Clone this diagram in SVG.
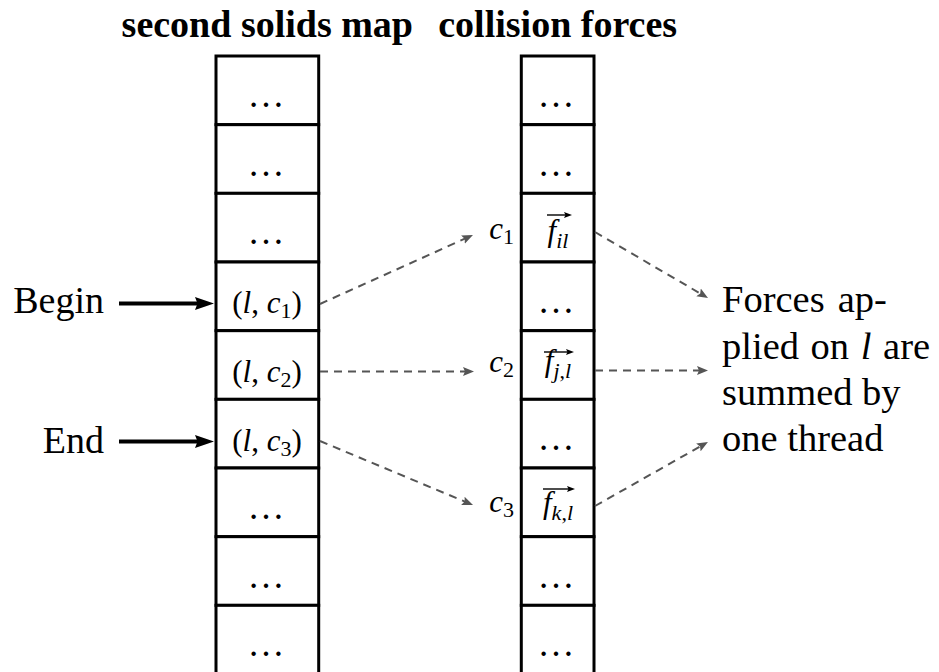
<svg xmlns="http://www.w3.org/2000/svg" width="939" height="672" viewBox="0 0 939 672">
<style>
.cell{fill:#fff;stroke:#000;stroke-width:3}
.t{font-family:"Liberation Serif","Times New Roman","DejaVu Serif",serif;fill:#000}
.h{font-size:38px;font-weight:bold;text-anchor:middle}
.lab{font-size:38px}
.sum{font-size:38.5px}
.m{font-size:31px;text-anchor:middle}
.c{font-size:31px;text-anchor:end}
.dots{font-size:37px;text-anchor:middle}
.i{font-style:italic}
.sub{font-size:22px}
.dash{fill:none;stroke:#555;stroke-width:2;stroke-dasharray:8 6;marker-end:url(#ga)}
.solid{fill:none;stroke:#000;stroke-width:4;marker-end:url(#ba)}
.vec{fill:none;stroke:#000;stroke-width:1.4;marker-end:url(#va)}
</style>
<defs>
<marker id="ba" markerUnits="userSpaceOnUse" markerWidth="20" markerHeight="14" refX="10" refY="7" orient="auto"><path d="M0,0.5 L19,7 L0,13.5 L2.5,7 Z" fill="#000"/></marker>
<marker id="ga" markerUnits="userSpaceOnUse" markerWidth="12" markerHeight="10" refX="6" refY="5" orient="auto"><path d="M0,0.5 L11,5 L0,9.5 L2,5 Z" fill="#555"/></marker>
<marker id="va" markerUnits="userSpaceOnUse" markerWidth="9" markerHeight="7" refX="4" refY="3.5" orient="auto"><path d="M0,0.5 L8,3.5 L0,6.5 L1.5,3.5 Z" fill="#000"/></marker>
</defs>
<rect width="939" height="672" fill="#fff"/>

<g id="headers">
<text class="t h" x="267.3" y="37">second solids map</text>
<text class="t h" x="557.7" y="37">collision forces</text>
</g>

<g id="second-solids-map">
<g id="s0"><rect class="cell" x="216" y="56" width="102.7" height="68.67"/><text class="t dots" x="266" y="107">…</text></g>
<g id="s1"><rect class="cell" x="216" y="124.67" width="102.7" height="68.67"/><text class="t dots" x="266" y="175.67">…</text></g>
<g id="s2"><rect class="cell" x="216" y="193.33" width="102.7" height="68.67"/><text class="t dots" x="266" y="244.33">…</text></g>
<g id="s3"><rect class="cell" x="216" y="262" width="102.7" height="68.67"/><text class="t m" x="267" y="313">(<tspan class="i">l</tspan>, <tspan class="i">c</tspan><tspan class="sub" dy="5">1</tspan><tspan dy="-5">)</tspan></text></g>
<g id="s4"><rect class="cell" x="216" y="330.67" width="102.7" height="68.67"/><text class="t m" x="267" y="382">(<tspan class="i">l</tspan>, <tspan class="i">c</tspan><tspan class="sub" dy="5">2</tspan><tspan dy="-5">)</tspan></text></g>
<g id="s5"><rect class="cell" x="216" y="399.33" width="102.7" height="68.67"/><text class="t m" x="267" y="450.5">(<tspan class="i">l</tspan>, <tspan class="i">c</tspan><tspan class="sub" dy="5">3</tspan><tspan dy="-5">)</tspan></text></g>
<g id="s6"><rect class="cell" x="216" y="468" width="102.7" height="68.67"/><text class="t dots" x="266" y="519">…</text></g>
<g id="s7"><rect class="cell" x="216" y="536.67" width="102.7" height="68.67"/><text class="t dots" x="266" y="587.67">…</text></g>
<g id="s8"><rect class="cell" x="216" y="605.33" width="102.7" height="68.67"/><text class="t dots" x="266" y="656.33">…</text></g>
</g>

<g id="collision-forces">
<g id="f0"><rect class="cell" x="521.3" y="56" width="72.7" height="68.67"/><text class="t dots" x="556" y="107">…</text></g>
<g id="f1"><rect class="cell" x="521.3" y="124.67" width="72.7" height="68.67"/><text class="t dots" x="556" y="175.67">…</text></g>
<g id="f2"><rect class="cell" x="521.3" y="193.33" width="72.7" height="68.67"/><text class="t m" x="558" y="241"><tspan class="i">f</tspan><tspan class="i sub" dy="7">il</tspan></text><path class="vec" d="M547,215 H568"/></g>
<g id="f3"><rect class="cell" x="521.3" y="262" width="72.7" height="68.67"/><text class="t dots" x="556" y="313">…</text></g>
<g id="f4"><rect class="cell" x="521.3" y="330.67" width="72.7" height="68.67"/><text class="t m" x="558" y="371"><tspan class="i">f</tspan><tspan class="i sub" dy="7">j</tspan><tspan class="sub">,</tspan><tspan class="i sub">l</tspan></text><path class="vec" d="M544,352 H570"/></g>
<g id="f5"><rect class="cell" x="521.3" y="399.33" width="72.7" height="68.67"/><text class="t dots" x="556" y="450.33">…</text></g>
<g id="f6"><rect class="cell" x="521.3" y="468" width="72.7" height="68.67"/><text class="t m" x="558" y="513"><tspan class="i">f</tspan><tspan class="i sub" dy="7">k</tspan><tspan class="sub">,</tspan><tspan class="i sub">l</tspan></text><path class="vec" d="M543,489 H571"/></g>
<g id="f7"><rect class="cell" x="521.3" y="536.67" width="72.7" height="68.67"/><text class="t dots" x="556" y="587.67">…</text></g>
<g id="f8"><rect class="cell" x="521.3" y="605.33" width="72.7" height="68.67"/><text class="t dots" x="556" y="656.33">…</text></g>
</g>

<g id="begin"><text class="t lab" x="104" y="313" text-anchor="end">Begin</text></g>
<g id="end"><text class="t lab" x="104" y="452.5" text-anchor="end">End</text></g>

<g id="c1"><text class="t c" x="514" y="239"><tspan class="i">c</tspan><tspan class="sub" dy="5">1</tspan></text></g>
<g id="c2"><text class="t c" x="514" y="372"><tspan class="i">c</tspan><tspan class="sub" dy="5">2</tspan></text></g>
<g id="c3"><text class="t c" x="514" y="512"><tspan class="i">c</tspan><tspan class="sub" dy="5">3</tspan></text></g>

<g id="summary">
<text class="t sum" x="722" y="312" word-spacing="3.5">Forces ap-</text>
<text class="t sum" x="722" y="359" word-spacing="2">plied on <tspan class="i">l</tspan> are</text>
<text class="t sum" x="722" y="405">summed by</text>
<text class="t sum" x="722" y="451">one thread</text>
</g>

<g id="connectors">
<path class="solid" d="M119,303.5 H205"/>
<path class="solid" d="M119,441.5 H205"/>
<path class="dash" d="M320,304 L468.4,237.1"/>
<path class="dash" d="M320,371.5 L469,371.5"/>
<path class="dash" d="M320,441 L468.4,503.1"/>
<path class="dash" d="M595,232 L703.7,295.5"/>
<path class="dash" d="M595,370.5 L703,370.5"/>
<path class="dash" d="M595,506 L703.6,444.5"/>
</g>
</svg>
